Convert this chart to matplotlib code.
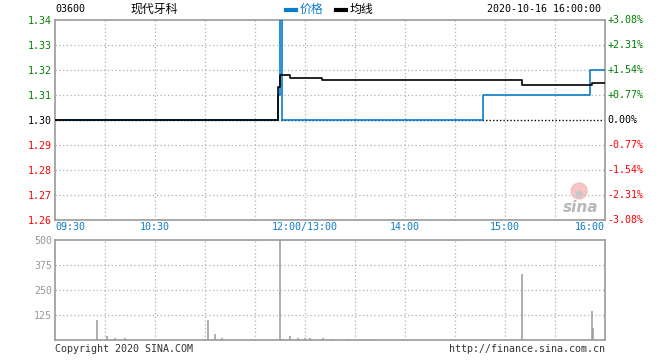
import numpy as np
import matplotlib
matplotlib.use("Agg")
import matplotlib.pyplot as plt
from matplotlib.patches import Ellipse

plt.rcParams['font.family'] = ['DejaVu Sans Mono', 'Noto Sans CJK SC']

# --- data (minutes since 09:30, lunch removed) ---
price_t = [0, 134, 135, 136, 257, 321, 330]
price_v = [1.30, 1.31, 1.34, 1.30, 1.31, 1.32, 1.32]
avg_t = [0, 134, 135, 141, 160, 280, 322, 330]
avg_v = [1.30, 1.3133, 1.318, 1.3169, 1.316, 1.3139, 1.3149, 1.3149]
vol_t = [25, 31, 36, 42, 92, 96, 100, 135, 136, 141, 146, 150, 153, 161,
         166, 176, 186, 191, 258, 280, 322, 323]
vol_v = [100, 20, 8, 8, 100, 30, 8, 600, 5, 20, 8, 8, 8, 8,
         5, 5, 5, 5, 5, 330, 145, 60]
prev_close = 1.30
price_ticks = [1.34, 1.33, 1.32, 1.31, 1.30, 1.29, 1.28, 1.27, 1.26]
pct_labels = ['+3.08%', '+2.31%', '+1.54%', '+0.77%', '0.00%',
              '-0.77%', '-1.54%', '-2.31%', '-3.08%']
vol_ticks = [125, 250, 375, 500]
time_ticks = [0, 60, 150, 210, 270, 330]
time_labels = ['09:30', '10:30', '12:00/13:00', '14:00', '15:00', '16:00']

W, H = 660, 360
fig = plt.figure(figsize=(6.6, 3.6), dpi=100)
ax = fig.add_axes([55 / W, (H - 220) / H, 550 / W, 200 / H])
axv = fig.add_axes([55 / W, (H - 340) / H, 550 / W, 100 / H])

blue = '#0a7dcc'
green = '#008000'
red = '#ff0000'
grey = '#999999'
fs = 7.2

for a in (ax, axv):
    a.set_xlim(0, 330)
    for s in a.spines.values():
        s.set_color(grey)
        s.set_linewidth(1.2)
    for xv in range(30, 330, 30):
        a.axvline(xv, color='#b0b0b0', lw=0.9, ls=(0, (1, 2)), zorder=1)
    a.set_xticks([])
    a.tick_params(length=0)

# price panel
ax.set_ylim(1.26, 1.34)
for yv in price_ticks[1:-1]:
    if yv != prev_close:
        ax.axhline(yv, color='#b0b0b0', lw=0.9, ls=(0, (1, 2)), zorder=1)
ax.axhline(prev_close, color='black', lw=1.0, ls=(0, (1, 1.5)), zorder=2)
ax.step(price_t, price_v, where='post', color=blue, lw=1.2, zorder=3)
ax.step(avg_t, avg_v, where='post', color='black', lw=1.2, zorder=4)

ax.set_yticks(price_ticks)
ax.set_yticklabels(['%.2f' % v for v in price_ticks], fontsize=fs)
for lbl, v in zip(ax.get_yticklabels(), price_ticks):
    lbl.set_color(green if v > prev_close else (red if v < prev_close else 'black'))
ax.tick_params(axis='y', pad=2)

for v, s in zip(price_ticks, pct_labels):
    c = green if v > prev_close else (red if v < prev_close else 'black')
    ax.text(1.005, (v - 1.26) / 0.08, s, transform=ax.transAxes, color=c,
            fontsize=fs, ha='left', va='center')

for t, s in zip(time_ticks, time_labels):
    ha = 'left' if t == 0 else ('right' if t == 330 else 'center')
    ax.text(t, 1.26 - 0.0009, s, color=blue, fontsize=fs, ha=ha, va='top')

# sina logo
ax.add_patch(Ellipse((0.953, 0.145), 16 / 550, 16 / 200, transform=ax.transAxes,
                     color='#f4b8b8', alpha=0.8, zorder=2))
ax.add_patch(Ellipse((0.953, 0.13), 6 / 550, 6 / 200, transform=ax.transAxes,
                     color='#c8c8c8', zorder=2))
ax.text(0.955, 0.065, 'sina', transform=ax.transAxes, color='#b8b8b8',
        fontsize=11, fontweight='bold', style='italic', ha='center',
        va='center', family='DejaVu Sans', zorder=3)

# volume panel
axv.set_ylim(0, 500)
for yv in vol_ticks[:-1]:
    axv.axhline(yv, color='#b0b0b0', lw=0.9, ls=(0, (1, 2)), zorder=1)
axv.vlines(vol_t, 0, vol_v, color=grey, lw=1.1, zorder=3)
axv.set_yticks(vol_ticks)
axv.set_yticklabels([str(v) for v in vol_ticks], fontsize=fs, color=grey)
axv.tick_params(axis='y', pad=2)

# header / footer
fig.text(55 / W, 1 - 9 / H, '03600', fontsize=fs, va='center', ha='left')
fig.text(130 / W, 1 - 9 / H, '现代牙科', fontsize=8.6, va='center', ha='left',
         family=['Noto Sans CJK SC', 'DejaVu Sans'])
fig.lines.append(plt.Line2D([286 / W, 296 / W], [1 - 10 / H, 1 - 10 / H],
                            color=blue, lw=3, transform=fig.transFigure))
fig.text(300 / W, 1 - 9 / H, '价格', fontsize=8.6, color=blue, va='center',
         ha='left', family=['Noto Sans CJK SC', 'DejaVu Sans'])
fig.lines.append(plt.Line2D([336 / W, 346 / W], [1 - 10 / H, 1 - 10 / H],
                            color='black', lw=3, transform=fig.transFigure))
fig.text(350 / W, 1 - 9 / H, '均线', fontsize=8.6, color='black', va='center',
         ha='left', family=['Noto Sans CJK SC', 'DejaVu Sans'])
fig.text(601 / W, 1 - 9 / H, '2020-10-16 16:00:00', fontsize=fs,
         va='center', ha='right')
fig.text(55 / W, 1 - 349 / H, 'Copyright 2020 SINA.COM', fontsize=fs,
         va='center', ha='left', color='#333333')
fig.text(605 / W, 1 - 349 / H, 'http://finance.sina.com.cn', fontsize=fs,
         va='center', ha='right', color='#333333')

fig.savefig('out.png', dpi=100)
